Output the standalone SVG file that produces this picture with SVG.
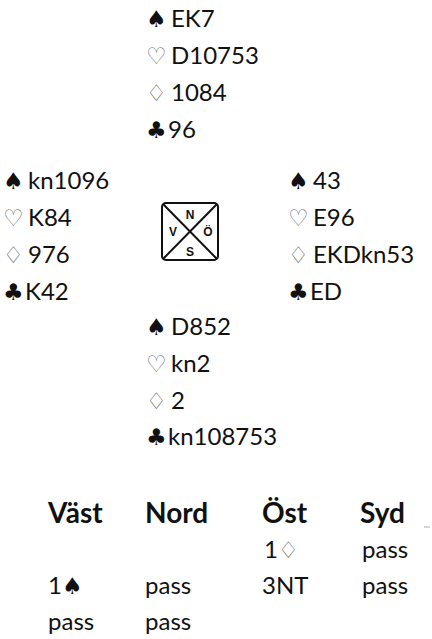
<svg xmlns="http://www.w3.org/2000/svg" width="432" height="639" viewBox="0 0 432 639">
<style>
.t{font-family:Lato,"Liberation Sans",sans-serif;font-size:24px;fill:#111}
.s{font-family:"DejaVu Sans",sans-serif;font-size:23px;fill:#111}
.o{font-family:"DejaVu Sans",sans-serif;font-size:23px;fill:#777}
.h{font-family:Lato,"Liberation Sans",sans-serif;font-size:28px;font-weight:bold;fill:#111}
.c{font-family:"Liberation Sans Narrow","Liberation Sans",sans-serif;font-size:12px;font-weight:bold;fill:#111;text-anchor:middle}
.b{stroke:#111;stroke-width:2;fill:none}
</style>
<rect width="432" height="639" fill="#fff"/>
<g id="north">
<text x="146" y="27"><tspan class="s">♠</tspan><tspan class="t" x="171">EK7</tspan></text>
<text x="146" y="64"><tspan class="o">♡</tspan><tspan class="t" x="171">D10753</tspan></text>
<text x="146" y="101"><tspan class="o">♢</tspan><tspan class="t" x="171">1084</tspan></text>
<text x="146" y="138"><tspan class="s">♣</tspan><tspan class="t" x="168">96</tspan></text>
</g>
<g id="west">
<text x="3" y="189"><tspan class="s">♠</tspan><tspan class="t" x="28">kn1096</tspan></text>
<text x="3" y="226"><tspan class="o">♡</tspan><tspan class="t" x="28">K84</tspan></text>
<text x="3" y="263"><tspan class="o">♢</tspan><tspan class="t" x="28">976</tspan></text>
<text x="3" y="300"><tspan class="s">♣</tspan><tspan class="t" x="25">K42</tspan></text>
</g>
<g id="compass">
<rect class="b" x="162" y="203" width="56" height="57" rx="4"/>
<line class="b" x1="163" y1="204" x2="217" y2="259"/>
<line class="b" x1="217" y1="204" x2="163" y2="259"/>
<text class="c" x="190" y="219">N</text>
<text class="c" x="173" y="236">V</text>
<text class="c" x="208" y="236">Ö</text>
<text class="c" x="190" y="256">S</text>
</g>
<g id="east">
<text x="288" y="189"><tspan class="s">♠</tspan><tspan class="t" x="313">43</tspan></text>
<text x="288" y="226"><tspan class="o">♡</tspan><tspan class="t" x="313">E96</tspan></text>
<text x="288" y="263"><tspan class="o">♢</tspan><tspan class="t" x="313">EKDkn53</tspan></text>
<text x="288" y="300"><tspan class="s">♣</tspan><tspan class="t" x="310">ED</tspan></text>
</g>
<g id="south">
<text x="146" y="335"><tspan class="s">♠</tspan><tspan class="t" x="171">D852</tspan></text>
<text x="146" y="372"><tspan class="o">♡</tspan><tspan class="t" x="171">kn2</tspan></text>
<text x="146" y="409"><tspan class="o">♢</tspan><tspan class="t" x="171">2</tspan></text>
<text x="146" y="445"><tspan class="s">♣</tspan><tspan class="t" x="168">kn108753</tspan></text>
</g>
<g id="bidding">
<text class="h" x="48" y="523">Väst</text>
<text class="h" x="145" y="523">Nord</text>
<text class="h" x="262" y="523">Öst</text>
<text class="h" x="360" y="523">Syd</text>
<line x1="424" y1="527" x2="430" y2="527" stroke="#aaa" stroke-width="1"/>
<text x="264" y="558"><tspan class="t">1</tspan><tspan class="o">♢</tspan></text>
<text class="t" x="362" y="558">pass</text>
<text x="48" y="594"><tspan class="t">1</tspan><tspan class="s">♠</tspan></text>
<text class="t" x="145" y="594">pass</text>
<text class="t" x="262" y="594">3NT</text>
<text class="t" x="362" y="594">pass</text>
<text class="t" x="48" y="630">pass</text>
<text class="t" x="145" y="630">pass</text>
</g>
</svg>
